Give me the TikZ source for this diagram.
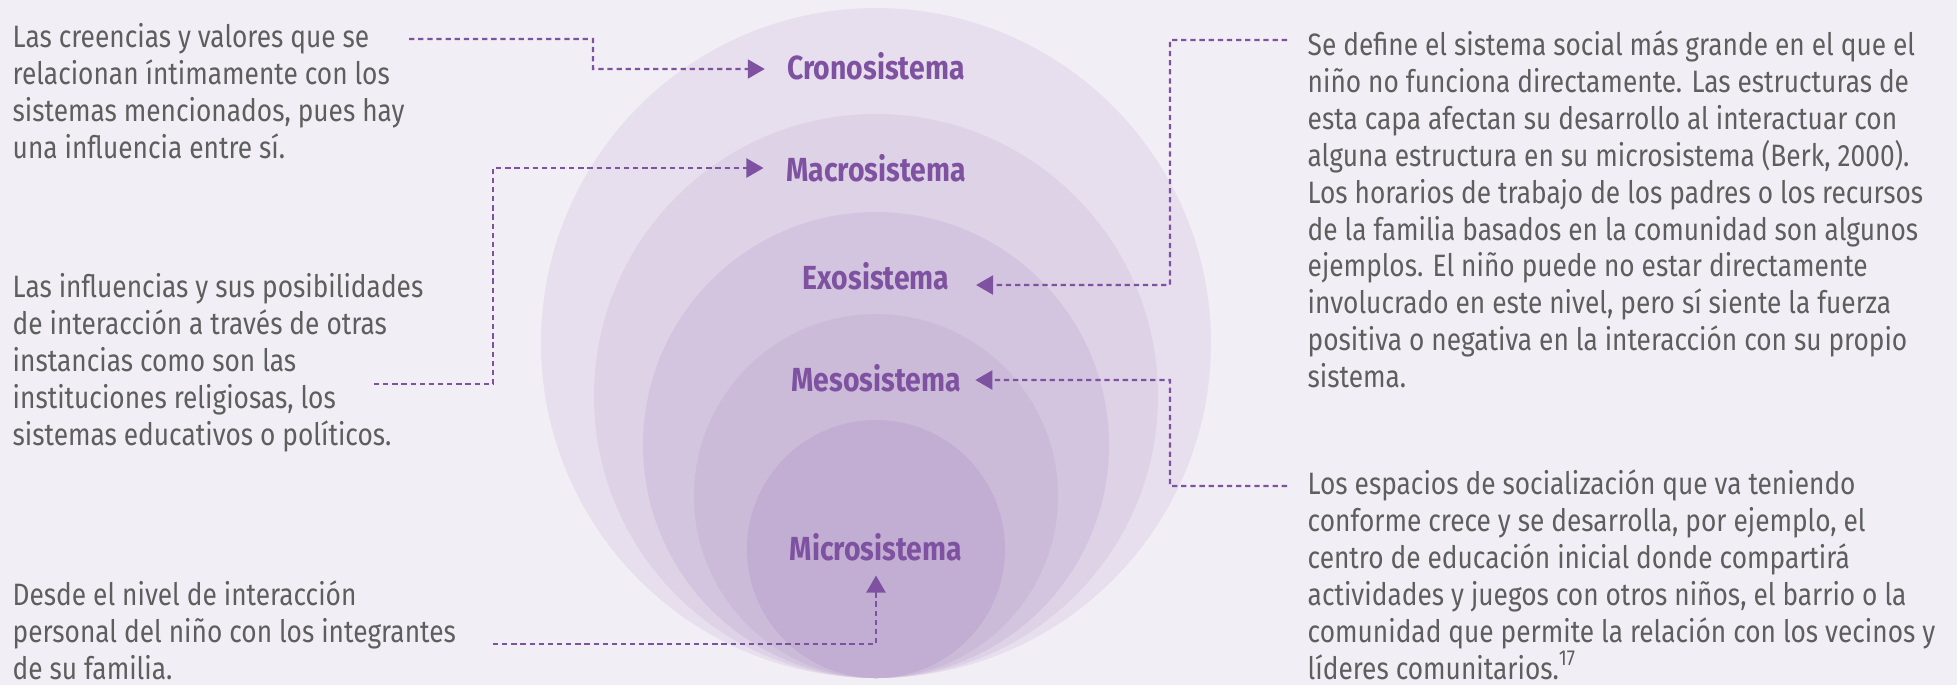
\documentclass[tikz,border=0pt]{standalone}
\usepackage{fontspec}
\setmainfont{Fira Sans}[FakeStretch=0.85]
\usetikzlibrary{arrows.meta,positioning}
\definecolor{fondo}{HTML}{F1EFF5}
\definecolor{capa1}{HTML}{E7DFED}
\definecolor{capa2}{HTML}{DED2E6}
\definecolor{capa3}{HTML}{D3C5DF}
\definecolor{capa4}{HTML}{CBBBD9}
\definecolor{capa5}{HTML}{C2AED3}
\definecolor{morado}{HTML}{7E52A0}
\definecolor{gris}{HTML}{5E5E5E}
\tikzset{
  nivel/.style={inner sep=0pt, text=morado, font=\fontsize{9.5}{11}\selectfont\bfseries},
  texto/.style={inner sep=0pt, anchor=north west, align=left, text=gris, font=\fontsize{8.8}{10.5}\selectfont},
  enlace/.style={draw=morado, line width=0.65pt, dash pattern=on 1.5pt off 1.1pt},
  flecha/.style={enlace, -{Triangle[length=1.7mm, width=1.9mm]}}
}
\begin{document}
\begin{tikzpicture}[x=0.1mm, y=-0.1mm]
  \fill[fondo] (0,0) rectangle (1957,685);
  \useasboundingbox (0,0) rectangle (1957,685);
  % capas del modelo
  \fill[capa1] (876,343) circle (33.5mm);
  \fill[capa2] (876,396) circle (28.2mm);
  \fill[capa3] (876,445) circle (23.3mm);
  \fill[capa4] (876,496) circle (18.2mm);
  \fill[capa5] (876,549) circle (12.9mm);
  % niveles
  \node[nivel] (crono) at (876,66) {Cronosistema};
  \node[nivel] (macro) at (876,168) {Macrosistema};
  \node[nivel] (exo) at (876,276) {Exosistema};
  \node[nivel] (meso) at (876,378) {Mesosistema};
  \node[nivel] (micro) at (876,547) {Microsistema};
  % descripciones
  \node[texto] (tcrono) at (12,23) {Las creencias y valores que se\\relacionan íntimamente con los\\sistemas mencionados, pues hay\\una influencia entre sí.};
  \node[texto] (tmacro) at (12,273) {Las influencias y sus posibilidades\\de interacción a través de otras\\instancias como son las\\instituciones religiosas, los\\sistemas educativos o políticos.};
  \node[texto] (tmicro) at (12,580) {Desde el nivel de interacción\\personal del niño con los integrantes\\de su familia.};
  \node[texto] (texo) at (1307,30) {Se define el sistema social más grande en el que el\\niño no funciona directamente. Las estructuras de\\esta capa afectan su desarrollo al interactuar con\\alguna estructura en su microsistema (Berk, 2000).\\Los horarios de trabajo de los padres o los recursos\\de la familia basados en la comunidad son algunos\\ejemplos. El niño puede no estar directamente\\involucrado en este nivel, pero sí siente la fuerza\\positiva o negativa en la interacción con su propio\\sistema.};
  \node[texto] (tmeso) at (1307,469) {Los espacios de socialización que va teniendo\\conforme crece y se desarrolla, por ejemplo, el\\centro de educación inicial donde compartirá\\actividades y juegos con otros niños, el barrio o la\\comunidad que permite la relación con los vecinos y\\líderes comunitarios.\textsuperscript{17}};
  % enlaces
  \coordinate (ini-crono) at (409,39);
  \coordinate (ini-macro) at (374,384);
  \coordinate (ini-micro) at (493,644);
  \coordinate (ini-exo) at (1287,40);
  \coordinate (ini-meso) at (1287,486);
  \draw[flecha] (ini-crono) -| (593,69) -- ([xshift=-2.2mm, yshift=-0.3mm]crono.west);
  \draw[flecha] (ini-macro) -| (493,168) -- ([xshift=-2.2mm]macro.west);
  \draw[flecha] (ini-exo) -| (1170,285) -- ([xshift=2.6mm, yshift=-0.9mm]exo.east);
  \draw[flecha] (ini-meso) -| (1170,380) -- ([xshift=1.4mm, yshift=-0.2mm]meso.east);
  \draw[flecha] (ini-micro) -| ([yshift=-1.4mm]micro.south);
\end{tikzpicture}
\end{document}
